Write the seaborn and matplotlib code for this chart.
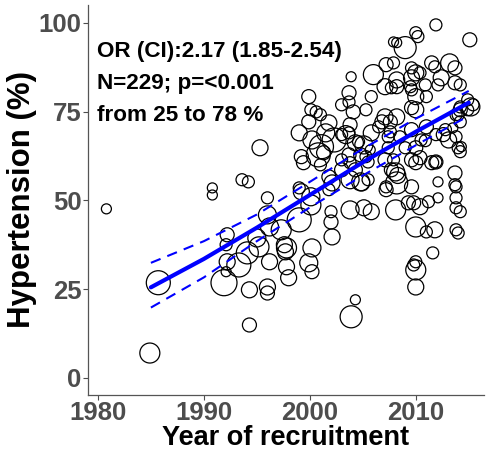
import numpy as np
import pandas as pd
import matplotlib
matplotlib.use("Agg")
import matplotlib.pyplot as plt
import seaborn as sns

# ---- data ----
years = [1980.8, 1984.9, 1985.7, 1990.8, 1990.8, 1993.6, 1994.2, 1995.3, 1996.0, 1996.0,
         1992.2, 1992.1, 1994.1, 1992.2, 1993.3, 1992.1, 1991.9, 1994.3, 1996.0, 1996.0,
         1996.2, 1994.3, 1995.0, 1996.2, 1997.3, 1995.2, 1997.7, 1998.0, 1999.9, 2000.2,
         2000.2, 2004.3, 2003.9, 1997.6, 1999.2, 2000.1, 2002.0, 2002.0, 2002.1, 1999.0,
         1997.8, 1997.8, 2003.8, 2005.1, 2005.8, 2008.1, 2009.3, 2009.8, 2010.0, 2011.2,
         2011.8, 2011.0, 2012.1, 2013.8, 2013.8, 2013.8, 2014.2, 2013.8, 2014.0, 2012.1,
         2011.6, 2010.0, 2010.0, 2010.0, 2009.8, 2008.2, 2007.2, 2004.9, 2010.4, 2013.7,
         2013.7, 2014.0, 2014.2, 2008.1, 2008.3, 2009.6, 2010.0, 2010.4, 2011.5, 2011.9,
         2012.6, 2012.8, 2007.1, 2007.7, 2009.6, 2010.0, 1999.4, 2001.0, 1999.0, 2000.1,
         2002.1, 2001.8, 2003.8, 2004.8, 2004.3, 2004.8, 2005.5, 2003.0, 2003.7, 2005.1,
         2005.5, 1999.0, 2000.2, 2001.1, 2002.3, 2003.4, 2004.3, 2001.3, 2003.9, 2006.0,
         1999.9, 2000.1, 2001.0, 2003.7, 2005.8, 2003.0, 2004.1, 2005.3, 2001.8, 1999.9,
         2003.7, 2011.9, 2015.1, 2010.0, 2010.2, 2007.9, 2008.2, 2009.0, 2007.2, 2007.9,
         2007.1, 2008.2, 2009.6, 2010.0, 2009.6, 2011.5, 2011.8, 2013.2, 2013.7, 2013.7,
         2014.2, 2012.4, 2014.9, 2015.2, 2014.2, 2013.8, 2014.2, 2013.5, 2014.3, 2011.9,
         2010.0, 2010.0, 2009.5, 2010.9, 2011.0, 2010.5, 2008.2, 2007.1, 2007.6, 2008.5,
         2009.0, 2007.4, 2007.9, 2005.8, 2005.7, 2005.3, 2003.8, 2003.7, 2003.0, 2004.6,
         2001.5, 2000.6, 2000.8, 1999.2, 2003.0, 2003.8, 2001.8, 2007.2, 2009.6, 2011.9,
         2014.9, 2013.8, 2013.1, 2007.4, 2006.5, 2010.9, 2010.4, 2007.7, 2008.2, 2011.0,
         2012.1, 2009.6, 2015.4, 2014.2, 2014.0, 2006.8, 2007.6, 2009.6]
hypertension = [47.6, 7.0, 26.8, 53.5, 51.5, 55.8, 55.2, 64.8, 50.7, 45.9,
                40.3, 37.5, 35.2, 32.7, 31.8, 29.9, 26.8, 24.8, 25.6, 23.9,
                32.7, 14.9, 39.4, 42.5, 41.7, 36.9, 35.5, 28.2, 32.4, 29.9,
                36.6, 22.0, 17.2, 37.5, 52.4, 48.7, 46.8, 43.9, 39.7, 44.5,
                36.6, 31.3, 47.3, 47.9, 46.8, 47.3, 49.3, 49.3, 42.5, 49.6,
                41.7, 41.1, 50.7, 53.8, 50.7, 47.9, 46.8, 41.7, 40.8, 55.2,
                35.2, 32.7, 30.4, 25.6, 31.8, 54.9, 53.0, 54.9, 48.2, 57.7,
                54.4, 64.8, 63.7, 58.0, 57.0, 61.4, 60.6, 62.0, 60.6, 60.8,
                68.5, 69.9, 61.4, 58.6, 69.9, 64.8, 60.6, 60.0, 53.5, 51.0,
                54.9, 53.0, 55.8, 55.2, 58.6, 62.8, 55.8, 61.4, 62.8, 65.6,
                60.8, 69.0, 67.0, 65.1, 67.0, 68.5, 66.2, 63.4, 84.8, 85.4,
                79.2, 75.5, 74.1, 80.3, 79.2, 76.9, 74.9, 75.5, 71.8, 72.1,
                77.7, 99.4, 95.2, 97.2, 96.1, 94.6, 94.4, 93.0, 88.2, 88.7,
                82.0, 83.9, 87.3, 85.9, 84.5, 88.7, 87.6, 88.7, 87.3, 83.1,
                82.5, 84.5, 78.3, 76.3, 75.5, 74.1, 72.1, 70.4, 65.1, 68.5,
                75.5, 79.2, 82.0, 82.5, 70.7, 67.0, 73.5, 73.5, 69.3, 67.9,
                64.8, 64.8, 61.4, 69.0, 64.2, 62.3, 71.3, 69.0, 68.5, 66.5,
                69.0, 74.9, 62.8, 62.3, 58.6, 60.6, 56.6, 53.8, 53.8, 60.8,
                75.5, 67.9, 67.0, 67.9, 70.7, 66.8, 85.9, 81.7, 82.0, 79.2,
                82.5, 81.1, 76.9, 76.3, 74.1, 72.1, 72.1, 76.1]
study_size = [5, 10, 12, 5, 5, 6, 6, 8, 6, 9,
              7, 6, 11, 8, 12, 5, 13, 8, 8, 7,
              8, 7, 9, 9, 10, 10, 8, 8, 9, 7,
              9, 5, 11, 8, 8, 10, 6, 7, 8, 12,
              10, 8, 9, 8, 8, 10, 7, 7, 10, 6,
              8, 6, 5, 6, 6, 6, 6, 6, 6, 5,
              6, 6, 10, 8, 6, 11, 7, 8, 8, 7,
              6, 6, 6, 9, 8, 7, 7, 7, 7, 6,
              7, 6, 7, 7, 7, 7, 7, 6, 6, 9,
              8, 6, 9, 9, 7, 7, 6, 6, 7, 9,
              6, 8, 9, 12, 12, 9, 8, 7, 5, 10,
              7, 6, 6, 7, 6, 6, 7, 6, 8, 7,
              6, 6, 7, 6, 6, 5, 5, 11, 7, 6,
              8, 8, 6, 8, 8, 7, 6, 9, 7, 7,
              6, 8, 6, 9, 7, 6, 6, 5, 5, 6,
              8, 8, 6, 6, 7, 6, 8, 8, 6, 6,
              6, 6, 6, 8, 5, 6, 7, 6, 6, 6,
              9, 6, 12, 7, 7, 6, 7, 6, 7, 7,
              6, 6, 8, 6, 6, 6, 6, 6, 7, 6,
              6, 6, 6, 6, 6, 7, 7, 7]

fit_years = [1985, 1990, 1995, 2000, 2005, 2010, 2015]
fit_pct = [25.5, 33.5, 42.3, 51.5, 60.7, 69.3, 77.5]
ci_upper = [32.4, 38.5, 46.0, 55.2, 64.5, 73.0, 80.8]
ci_lower = [19.8, 28.3, 38.5, 48.0, 57.0, 65.5, 73.8]

x_ticks = [1980, 1990, 2000, 2010]
y_ticks = [0, 25, 50, 75, 100]
annot_lines = ["OR (CI):2.17 (1.85-2.54)", "N=229; p=<0.001", "from 25 to 78 %"]

# ---- plotting ----
sns.set_theme(style="white")
plt.rcParams['font.family'] = ['Liberation Sans', 'DejaVu Sans']

n = min(len(years), len(hypertension), len(study_size))
df = pd.DataFrame({"year": years[:n], "pct": hypertension[:n], "r": study_size[:n]})
fit = pd.DataFrame({"year": fit_years, "pct": fit_pct, "lo": ci_lower, "hi": ci_upper})

fig = plt.figure(figsize=(4.86, 4.55), dpi=100)
ax = fig.add_axes([0.181, 0.132, 0.814, 0.857])

size_map = {r: (1.44 * r) ** 2 for r in sorted(set(df["r"]))}
sns.scatterplot(data=df, x="year", y="pct", size="r", sizes=size_map,
                facecolors="none", edgecolor="black", linewidth=0.9,
                legend=False, ax=ax)
sns.lineplot(data=fit, x="year", y="pct", color="#0000FF", linewidth=3.0, ax=ax)
sns.lineplot(data=fit, x="year", y="hi", color="#0000FF", linewidth=1.5, ax=ax)
ax.lines[-1].set_dashes([5, 3.5])
sns.lineplot(data=fit, x="year", y="lo", color="#0000FF", linewidth=1.5, ax=ax)
ax.lines[-1].set_dashes([5, 3.5])

ax.set_xlim(1979.06, 2016.4)
ax.set_ylim(-4.8, 105.0)
ax.set_xticks(x_ticks)
ax.set_yticks(y_ticks)
ax.tick_params(axis="both", bottom=True, left=True, labelsize=18.5, colors="#4D4D4D",
               length=3.5, width=0.8, direction="out", pad=1)
for lab in ax.get_xticklabels() + ax.get_yticklabels():
    lab.set_fontweight("bold")
    lab.set_color("#4D4D4D")
ax.set_xlabel("Year of recruitment", fontsize=19.5, fontweight="bold", color="black", labelpad=0)
ax.set_ylabel("Hypertension (%)", fontsize=22.5, fontweight="bold", color="black", labelpad=1)

for side in ["top", "right"]:
    ax.spines[side].set_visible(False)
for side in ["left", "bottom"]:
    ax.spines[side].set_color("#555555")
    ax.spines[side].set_linewidth(0.9)

for i, t in enumerate(annot_lines):
    ax.text(1979.9, 91.8 - i * 9.0, t, fontsize=16.2, fontweight="bold",
            color="black", va="center", ha="left")

fig.savefig("out.png", dpi=100)
